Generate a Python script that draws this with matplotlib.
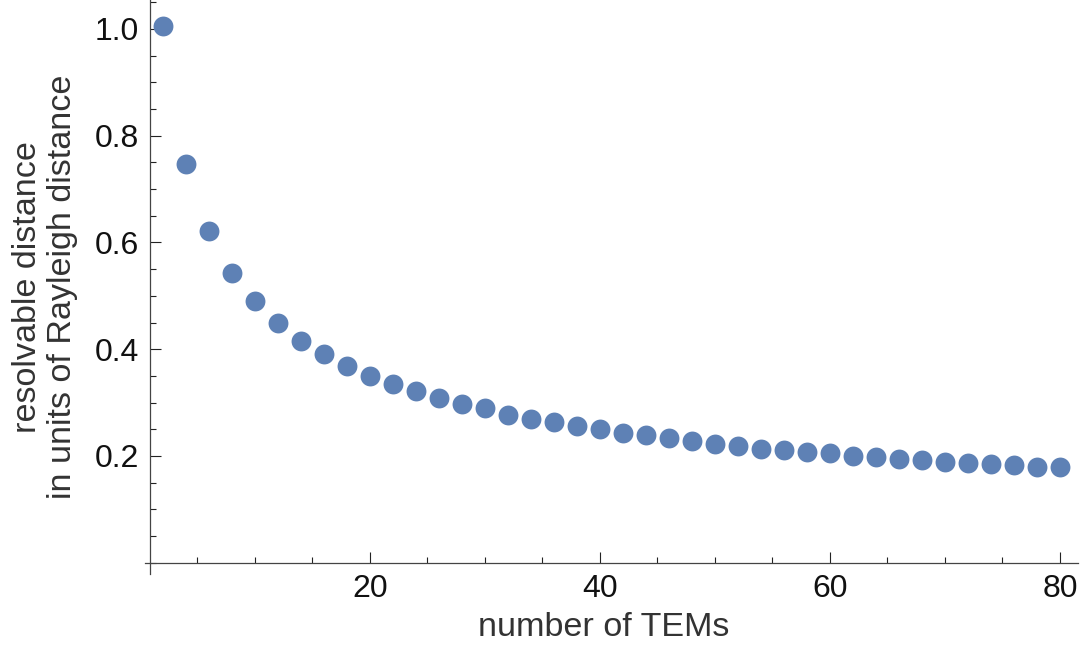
import numpy as np
import matplotlib
matplotlib.use("Agg")
import matplotlib.pyplot as plt
from matplotlib.ticker import MultipleLocator

# data
n_tems = np.arange(2, 81, 2)
resolvable = [1.005, 0.746, 0.622, 0.542, 0.490, 0.449, 0.415, 0.391, 0.369, 0.350,
              0.335, 0.322, 0.308, 0.297, 0.289, 0.277, 0.269, 0.264, 0.256, 0.250,
              0.244, 0.239, 0.234, 0.228, 0.223, 0.219, 0.214, 0.211, 0.208, 0.205,
              0.200, 0.198, 0.195, 0.1925, 0.189, 0.1875, 0.185, 0.183, 0.180, 0.179]

plt.rcParams['font.family'] = ['Liberation Sans', 'DejaVu Sans']

fig = plt.figure(figsize=(10.82, 6.53), dpi=100)
ax = fig.add_axes([145 / 1082, 1 - 574 / 653, 933 / 1082, 574 / 653])

ax.plot(n_tems, resolvable, 'o', color='#5E81B5', markersize=14.3,
        markeredgewidth=0, clip_on=False)

ax.set_xlim(0.435, 81.57)
ax.set_ylim(-0.021, 1.054)

# Mathematica-style axes crossing near origin
for s in ['top', 'right']:
    ax.spines[s].set_visible(False)
ax.spines['left'].set_position(('data', 0.87))
ax.spines['bottom'].set_position(('data', 0.0))
for s in ['left', 'bottom']:
    ax.spines[s].set_color('#444444')
    ax.spines[s].set_linewidth(0.9)

ax.xaxis.set_major_locator(MultipleLocator(20))
ax.xaxis.set_minor_locator(MultipleLocator(5))
ax.set_yticks([0.2, 0.4, 0.6, 0.8, 1.0])
ax.set_yticklabels(['0.2', '0.4', '0.6', '0.8', '1.0'])
ax.yaxis.set_minor_locator(MultipleLocator(0.05))

ax.tick_params(which='both', direction='in', color='#222222', width=0.8,
               labelsize=23, labelcolor='#111111')
ax.tick_params(which='major', length=8, pad=8)
ax.tick_params(which='minor', length=4.3)

ax.set_xlabel("number of TEMs", fontsize=24.6, color='#333333')
ax.set_ylabel("resolvable distance\nin units of Rayleigh distance", fontsize=24.6,
              color='#333333', linespacing=1.15)
ax.xaxis.set_label_coords(0.492, -0.066)
ax.yaxis.set_label_coords(-0.072, 0.5)

fig.savefig("out.png", dpi=100)
